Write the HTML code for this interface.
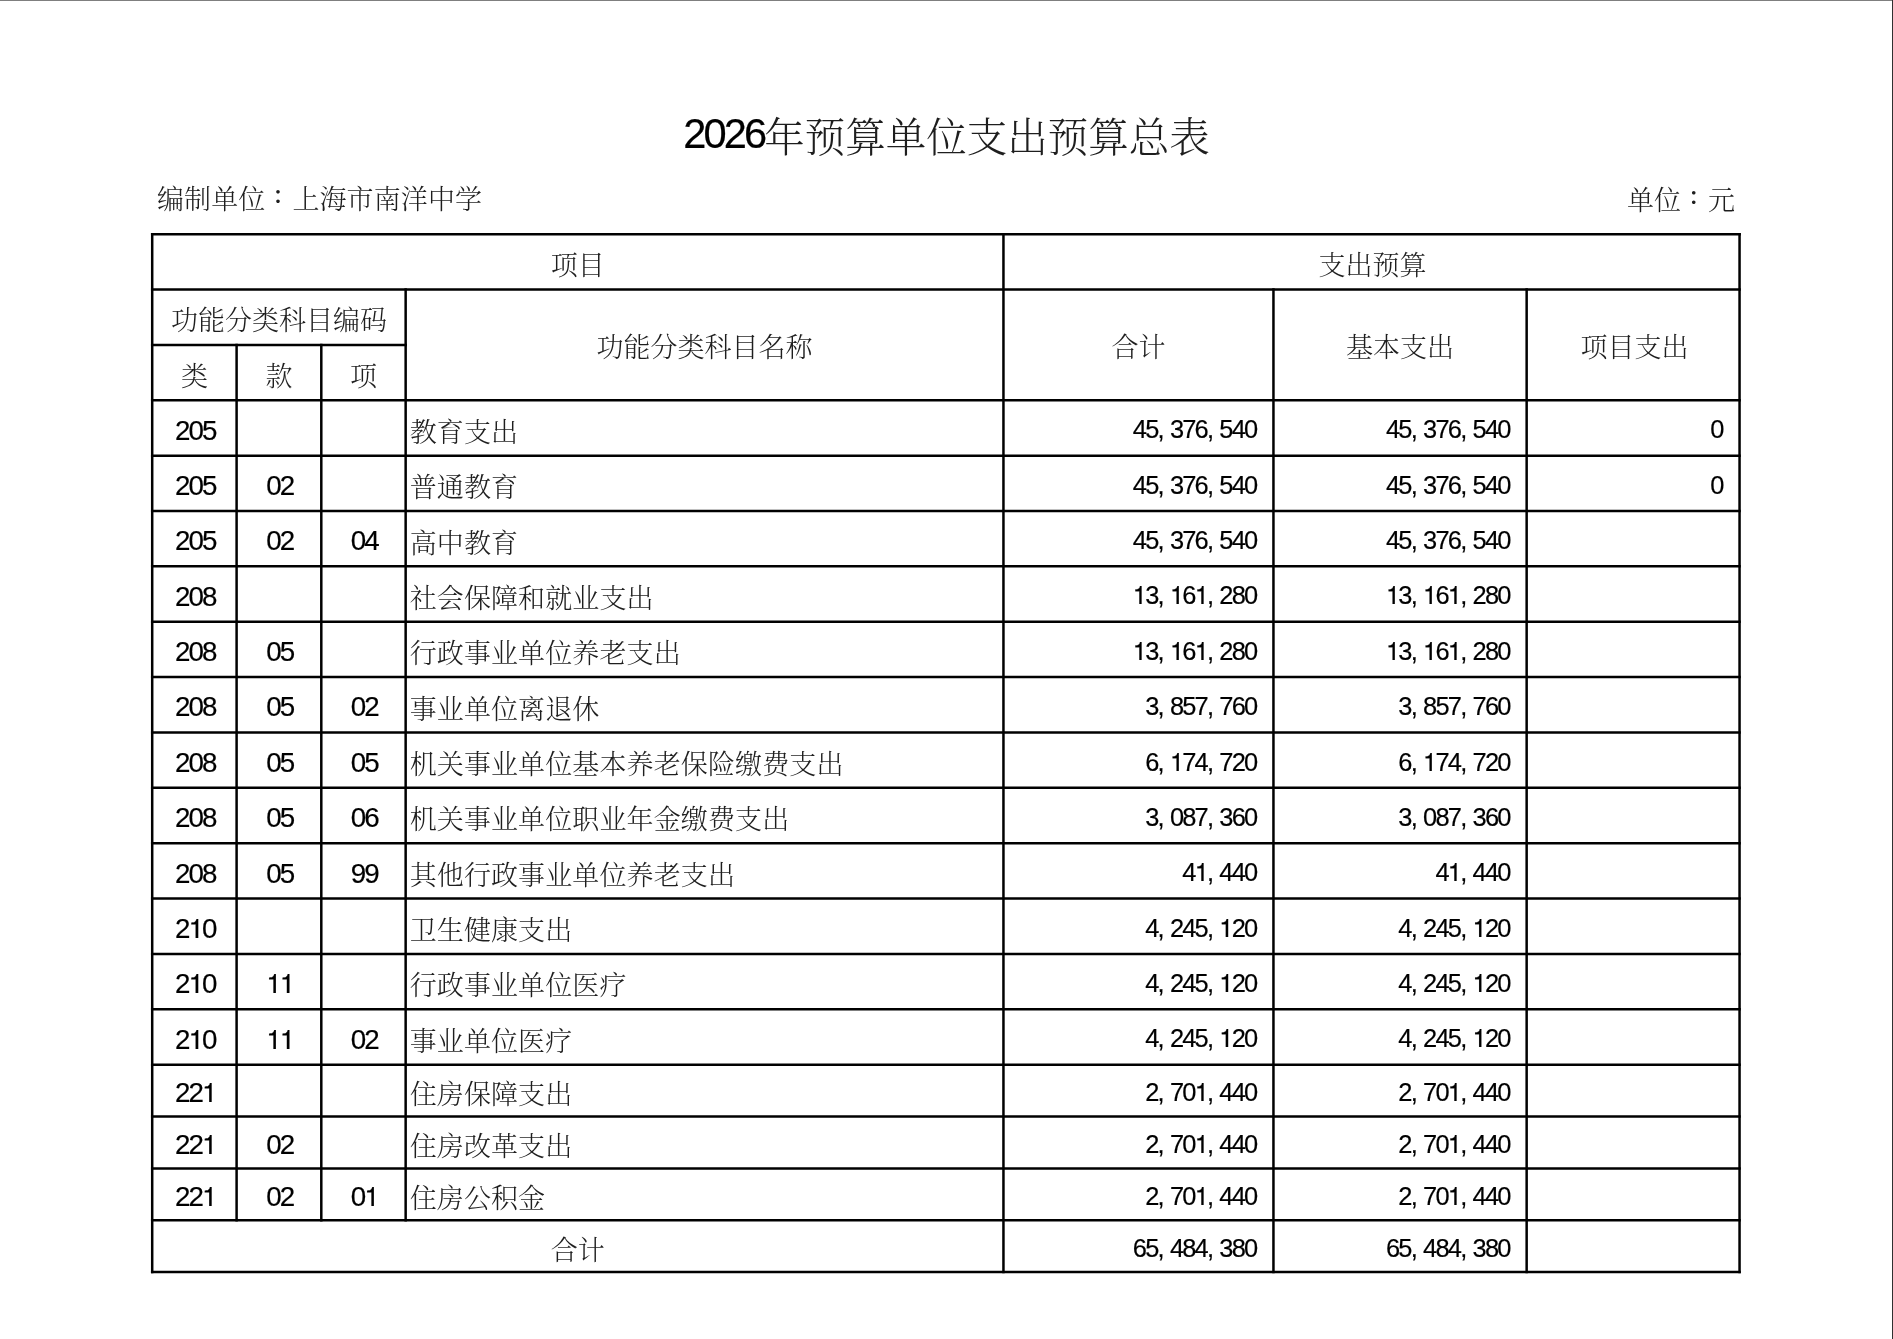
<!DOCTYPE html>
<html lang="zh-CN"><head><meta charset="utf-8"><title>2026年预算单位支出预算总表</title>
<style>
html,body{margin:0;padding:0;background:#fff}
body{width:1893px;height:1339px;position:relative;overflow:hidden;color:#1e1e1e;
font-family:"Liberation Sans","Noto Serif CJK SC",serif;font-weight:300;font-size:27px}
.pg{position:absolute;left:0;top:0;width:1893px;height:1339px;will-change:transform}
svg{position:absolute;left:0;top:0}
.c{position:absolute;white-space:nowrap;height:40px;line-height:40px;overflow:visible}
.ce{text-align:center}.r{text-align:right}.l{text-align:left;letter-spacing:.12px}
.n{font-size:1.028em;line-height:0;letter-spacing:-.0695em;font-weight:400;color:#000;-webkit-text-stroke:.2px #000;font-kerning:none}
.n b{font-family:"TeX Gyre Heros","FreeSans","Liberation Sans",sans-serif;font-weight:400;line-height:0}
.n i{font-style:normal;letter-spacing:.2084em}
.a{font-size:24.73px}
.k{position:relative;top:3.7px}
.title{position:absolute;left:0;width:1893px;text-align:center;font-size:40.5px;height:60px;line-height:60px;white-space:nowrap}
.col{font-family:"Noto Sans CJK JP","Noto Serif CJK SC",sans-serif;font-weight:700;display:inline-block;width:27px;font-size:19px;line-height:20px;text-align:center;position:relative;top:-4.8px;left:-.8px}
.edge-t{position:absolute;left:0;top:0;width:100%;height:1px;background:#7f7f7f}
.edge-r{position:absolute;right:0;top:0;width:1px;height:100%;background:#303030}

</style></head><body><div class="pg">
<div class="edge-t"></div><div class="edge-r"></div>
<svg width="1893" height="1339" viewBox="0 0 1893 1339"><g stroke="#000" stroke-width="2.5" stroke-linecap="square" fill="none">
<line x1="152.20" y1="234.15" x2="1739.55" y2="234.15"/>
<line x1="152.20" y1="289.52" x2="1739.55" y2="289.52"/>
<line x1="152.20" y1="344.89" x2="405.65" y2="344.89"/>
<line x1="152.20" y1="400.26" x2="1739.55" y2="400.26"/>
<line x1="152.20" y1="455.63" x2="1739.55" y2="455.63"/>
<line x1="152.20" y1="511.00" x2="1739.55" y2="511.00"/>
<line x1="152.20" y1="566.37" x2="1739.55" y2="566.37"/>
<line x1="152.20" y1="621.74" x2="1739.55" y2="621.74"/>
<line x1="152.20" y1="677.11" x2="1739.55" y2="677.11"/>
<line x1="152.20" y1="732.48" x2="1739.55" y2="732.48"/>
<line x1="152.20" y1="787.85" x2="1739.55" y2="787.85"/>
<line x1="152.20" y1="843.22" x2="1739.55" y2="843.22"/>
<line x1="152.20" y1="898.59" x2="1739.55" y2="898.59"/>
<line x1="152.20" y1="953.96" x2="1739.55" y2="953.96"/>
<line x1="152.20" y1="1009.33" x2="1739.55" y2="1009.33"/>
<line x1="152.20" y1="1064.70" x2="1739.55" y2="1064.70"/>
<line x1="152.20" y1="1116.54" x2="1739.55" y2="1116.54"/>
<line x1="152.20" y1="1168.38" x2="1739.55" y2="1168.38"/>
<line x1="152.20" y1="1220.22" x2="1739.55" y2="1220.22"/>
<line x1="152.20" y1="1272.06" x2="1739.55" y2="1272.06"/>
<line x1="152.20" y1="234.15" x2="152.20" y2="1272.06"/>
<line x1="1739.55" y1="234.15" x2="1739.55" y2="1272.06"/>
<line x1="1003.45" y1="234.15" x2="1003.45" y2="1272.06"/>
<line x1="1273.45" y1="289.52" x2="1273.45" y2="1272.06"/>
<line x1="1526.65" y1="289.52" x2="1526.65" y2="1272.06"/>
<line x1="405.65" y1="289.52" x2="405.65" y2="1220.22"/>
<line x1="236.60" y1="344.89" x2="236.60" y2="1220.22"/>
<line x1="321.30" y1="344.89" x2="321.30" y2="1220.22"/>
</g></svg>
<div class="title" style="top:104.27px"><span class="n">2026</span><span class="k">年预算单位支出预算总表</span></div>
<div class="c l" style="left:156.9px;top:179.94px">编制单位<span class="col" lang="ja">：</span>上海市南洋中学</div>
<div class="c r" style="left:1400px;width:335px;top:181.04px">单位<span class="col" lang="ja">：</span>元</div>
<div class="c ce" style="left:152.20px;width:851.25px;top:245.88px">项目</div>
<div class="c ce" style="left:1004.45px;width:736.10px;top:245.88px">支出预算</div>
<div class="c ce" style="left:152.20px;width:253.45px;top:301.05px">功能分类科目编码</div>
<div class="c ce" style="left:152.20px;width:84.40px;top:357.42px">类</div>
<div class="c ce" style="left:236.60px;width:84.70px;top:357.42px">款</div>
<div class="c ce" style="left:321.30px;width:84.35px;top:357.42px">项</div>
<div class="c ce" style="left:405.65px;width:597.80px;top:328.43px">功能分类科目名称</div>
<div class="c ce" style="left:1003.45px;width:270.00px;top:328.43px">合计</div>
<div class="c ce" style="left:1273.45px;width:253.20px;top:328.43px">基本支出</div>
<div class="c ce" style="left:1528.15px;width:212.90px;top:328.43px">项目支出</div>
<div class="c ce" style="left:153.80px;width:82.80px;top:410.59px"><span class="n">205</span></div>
<div class="c l" style="left:409.65px;top:412.79px">教育支出</div>
<div class="c r a" style="left:1003.45px;width:253.00px;top:410.38px"><span class="n">45<i>,</i>376<i>,</i>540</span></div>
<div class="c r a" style="left:1273.45px;width:236.20px;top:410.38px"><span class="n">45<i>,</i>376<i>,</i>540</span></div>
<div class="c r a" style="left:1526.65px;width:195.90px;top:410.38px"><span class="n">0</span></div>
<div class="c ce" style="left:153.80px;width:82.80px;top:465.96px"><span class="n">205</span></div>
<div class="c ce" style="left:238.20px;width:83.10px;top:465.96px"><span class="n">02</span></div>
<div class="c l" style="left:409.65px;top:468.16px">普通教育</div>
<div class="c r a" style="left:1003.45px;width:253.00px;top:465.75px"><span class="n">45<i>,</i>376<i>,</i>540</span></div>
<div class="c r a" style="left:1273.45px;width:236.20px;top:465.75px"><span class="n">45<i>,</i>376<i>,</i>540</span></div>
<div class="c r a" style="left:1526.65px;width:195.90px;top:465.75px"><span class="n">0</span></div>
<div class="c ce" style="left:153.80px;width:82.80px;top:521.33px"><span class="n">205</span></div>
<div class="c ce" style="left:238.20px;width:83.10px;top:521.33px"><span class="n">02</span></div>
<div class="c ce" style="left:322.90px;width:82.75px;top:521.33px"><span class="n">04</span></div>
<div class="c l" style="left:409.65px;top:523.53px">高中教育</div>
<div class="c r a" style="left:1003.45px;width:253.00px;top:521.12px"><span class="n">45<i>,</i>376<i>,</i>540</span></div>
<div class="c r a" style="left:1273.45px;width:236.20px;top:521.12px"><span class="n">45<i>,</i>376<i>,</i>540</span></div>
<div class="c ce" style="left:153.80px;width:82.80px;top:576.70px"><span class="n">208</span></div>
<div class="c l" style="left:409.65px;top:578.90px">社会保障和就业支出</div>
<div class="c r a" style="left:1003.45px;width:253.00px;top:576.49px"><span class="n"><b>1</b>3<i>,</i><b>1</b>6<b>1</b><i>,</i>280</span></div>
<div class="c r a" style="left:1273.45px;width:236.20px;top:576.49px"><span class="n"><b>1</b>3<i>,</i><b>1</b>6<b>1</b><i>,</i>280</span></div>
<div class="c ce" style="left:153.80px;width:82.80px;top:632.07px"><span class="n">208</span></div>
<div class="c ce" style="left:238.20px;width:83.10px;top:632.07px"><span class="n">05</span></div>
<div class="c l" style="left:409.65px;top:634.27px">行政事业单位养老支出</div>
<div class="c r a" style="left:1003.45px;width:253.00px;top:631.86px"><span class="n"><b>1</b>3<i>,</i><b>1</b>6<b>1</b><i>,</i>280</span></div>
<div class="c r a" style="left:1273.45px;width:236.20px;top:631.86px"><span class="n"><b>1</b>3<i>,</i><b>1</b>6<b>1</b><i>,</i>280</span></div>
<div class="c ce" style="left:153.80px;width:82.80px;top:687.44px"><span class="n">208</span></div>
<div class="c ce" style="left:238.20px;width:83.10px;top:687.44px"><span class="n">05</span></div>
<div class="c ce" style="left:322.90px;width:82.75px;top:687.44px"><span class="n">02</span></div>
<div class="c l" style="left:409.65px;top:689.64px">事业单位离退休</div>
<div class="c r a" style="left:1003.45px;width:253.00px;top:687.23px"><span class="n">3<i>,</i>857<i>,</i>760</span></div>
<div class="c r a" style="left:1273.45px;width:236.20px;top:687.23px"><span class="n">3<i>,</i>857<i>,</i>760</span></div>
<div class="c ce" style="left:153.80px;width:82.80px;top:742.81px"><span class="n">208</span></div>
<div class="c ce" style="left:238.20px;width:83.10px;top:742.81px"><span class="n">05</span></div>
<div class="c ce" style="left:322.90px;width:82.75px;top:742.81px"><span class="n">05</span></div>
<div class="c l" style="left:409.65px;top:745.01px">机关事业单位基本养老保险缴费支出</div>
<div class="c r a" style="left:1003.45px;width:253.00px;top:742.60px"><span class="n">6<i>,</i><b>1</b>74<i>,</i>720</span></div>
<div class="c r a" style="left:1273.45px;width:236.20px;top:742.60px"><span class="n">6<i>,</i><b>1</b>74<i>,</i>720</span></div>
<div class="c ce" style="left:153.80px;width:82.80px;top:798.18px"><span class="n">208</span></div>
<div class="c ce" style="left:238.20px;width:83.10px;top:798.18px"><span class="n">05</span></div>
<div class="c ce" style="left:322.90px;width:82.75px;top:798.18px"><span class="n">06</span></div>
<div class="c l" style="left:409.65px;top:800.38px">机关事业单位职业年金缴费支出</div>
<div class="c r a" style="left:1003.45px;width:253.00px;top:797.97px"><span class="n">3<i>,</i>087<i>,</i>360</span></div>
<div class="c r a" style="left:1273.45px;width:236.20px;top:797.97px"><span class="n">3<i>,</i>087<i>,</i>360</span></div>
<div class="c ce" style="left:153.80px;width:82.80px;top:853.55px"><span class="n">208</span></div>
<div class="c ce" style="left:238.20px;width:83.10px;top:853.55px"><span class="n">05</span></div>
<div class="c ce" style="left:322.90px;width:82.75px;top:853.55px"><span class="n">99</span></div>
<div class="c l" style="left:409.65px;top:855.75px">其他行政事业单位养老支出</div>
<div class="c r a" style="left:1003.45px;width:253.00px;top:853.34px"><span class="n">4<b>1</b><i>,</i>440</span></div>
<div class="c r a" style="left:1273.45px;width:236.20px;top:853.34px"><span class="n">4<b>1</b><i>,</i>440</span></div>
<div class="c ce" style="left:153.80px;width:82.80px;top:908.92px"><span class="n">2<b>1</b>0</span></div>
<div class="c l" style="left:409.65px;top:911.12px">卫生健康支出</div>
<div class="c r a" style="left:1003.45px;width:253.00px;top:908.71px"><span class="n">4<i>,</i>245<i>,</i><b>1</b>20</span></div>
<div class="c r a" style="left:1273.45px;width:236.20px;top:908.71px"><span class="n">4<i>,</i>245<i>,</i><b>1</b>20</span></div>
<div class="c ce" style="left:153.80px;width:82.80px;top:964.29px"><span class="n">2<b>1</b>0</span></div>
<div class="c ce" style="left:238.20px;width:83.10px;top:964.29px"><span class="n"><b>1</b><b>1</b></span></div>
<div class="c l" style="left:409.65px;top:966.49px">行政事业单位医疗</div>
<div class="c r a" style="left:1003.45px;width:253.00px;top:964.08px"><span class="n">4<i>,</i>245<i>,</i><b>1</b>20</span></div>
<div class="c r a" style="left:1273.45px;width:236.20px;top:964.08px"><span class="n">4<i>,</i>245<i>,</i><b>1</b>20</span></div>
<div class="c ce" style="left:153.80px;width:82.80px;top:1019.66px"><span class="n">2<b>1</b>0</span></div>
<div class="c ce" style="left:238.20px;width:83.10px;top:1019.66px"><span class="n"><b>1</b><b>1</b></span></div>
<div class="c ce" style="left:322.90px;width:82.75px;top:1019.66px"><span class="n">02</span></div>
<div class="c l" style="left:409.65px;top:1021.86px">事业单位医疗</div>
<div class="c r a" style="left:1003.45px;width:253.00px;top:1019.45px"><span class="n">4<i>,</i>245<i>,</i><b>1</b>20</span></div>
<div class="c r a" style="left:1273.45px;width:236.20px;top:1019.45px"><span class="n">4<i>,</i>245<i>,</i><b>1</b>20</span></div>
<div class="c ce" style="left:153.80px;width:82.80px;top:1073.26px"><span class="n">22<b>1</b></span></div>
<div class="c l" style="left:409.65px;top:1075.46px">住房保障支出</div>
<div class="c r a" style="left:1003.45px;width:253.00px;top:1073.05px"><span class="n">2<i>,</i>70<b>1</b><i>,</i>440</span></div>
<div class="c r a" style="left:1273.45px;width:236.20px;top:1073.05px"><span class="n">2<i>,</i>70<b>1</b><i>,</i>440</span></div>
<div class="c ce" style="left:153.80px;width:82.80px;top:1125.10px"><span class="n">22<b>1</b></span></div>
<div class="c ce" style="left:238.20px;width:83.10px;top:1125.10px"><span class="n">02</span></div>
<div class="c l" style="left:409.65px;top:1127.30px">住房改革支出</div>
<div class="c r a" style="left:1003.45px;width:253.00px;top:1124.89px"><span class="n">2<i>,</i>70<b>1</b><i>,</i>440</span></div>
<div class="c r a" style="left:1273.45px;width:236.20px;top:1124.89px"><span class="n">2<i>,</i>70<b>1</b><i>,</i>440</span></div>
<div class="c ce" style="left:153.80px;width:82.80px;top:1176.94px"><span class="n">22<b>1</b></span></div>
<div class="c ce" style="left:238.20px;width:83.10px;top:1176.94px"><span class="n">02</span></div>
<div class="c ce" style="left:322.90px;width:82.75px;top:1176.94px"><span class="n">0<b>1</b></span></div>
<div class="c l" style="left:409.65px;top:1179.14px">住房公积金</div>
<div class="c r a" style="left:1003.45px;width:253.00px;top:1176.73px"><span class="n">2<i>,</i>70<b>1</b><i>,</i>440</span></div>
<div class="c r a" style="left:1273.45px;width:236.20px;top:1176.73px"><span class="n">2<i>,</i>70<b>1</b><i>,</i>440</span></div>
<div class="c ce" style="left:152.20px;width:851.25px;top:1230.98px">合计</div>
<div class="c r a" style="left:1003.45px;width:253.00px;top:1228.57px"><span class="n">65<i>,</i>484<i>,</i>380</span></div>
<div class="c r a" style="left:1273.45px;width:236.20px;top:1228.57px"><span class="n">65<i>,</i>484<i>,</i>380</span></div>
</div></body></html>
